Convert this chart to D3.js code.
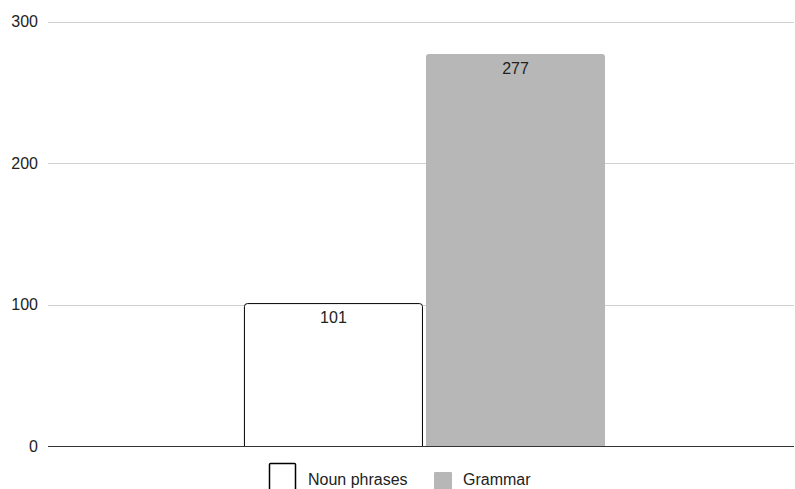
<!DOCTYPE html>
<html>
<head>
<meta charset="utf-8">
<script src="https://cdn.jsdelivr.net/npm/d3@7"></script>
<style>
  html, body { margin: 0; padding: 0; background: #fff; }
  svg { display: block; font-family: "Liberation Sans", Arial, Helvetica, sans-serif; }
</style>
</head>
<body>
<svg id="chart" width="795" height="489"></svg>
<script>
// Chart data
const categories = [""];
const seriesNames = ["Noun phrases", "Grammar"];
const nounPhrases = [101];
const grammar = [277];
const yTicks = [0, 100, 200, 300];

const seriesColors = { "Noun phrases": "#ffffff", "Grammar": "#b7b7b7" };
const seriesStroke = { "Noun phrases": "#000000", "Grammar": "none" };

const rows = categories.map((c, i) => ({
  category: c,
  values: [
    { key: "Noun phrases", value: nounPhrases[i] },
    { key: "Grammar", value: grammar[i] }
  ]
}));

const svg = d3.select("#chart");
const plotLeft = 48, plotRight = 794;
const yBase = 446, yTop = 21.5;
const fontSize = "16px";

const y = d3.scaleLinear().domain([0, 300]).range([yBase, yTop]);
const x0 = d3.scaleBand().domain(categories).range([plotLeft, plotRight])
  .paddingInner(0).paddingOuter(0.533).align(0.509);
const x1 = d3.scaleBand().domain(seriesNames).range([0, x0.bandwidth()]).paddingInner(0.0165);

// Y labels
const yAxis = d3.axisLeft(y).tickValues(yTicks).tickSize(0).tickPadding(10).tickFormat(d3.format("d"));
const gAxis = svg.append("g").attr("transform", `translate(${plotLeft},0)`).call(yAxis);
gAxis.select(".domain").remove();
gAxis.selectAll("text").attr("font-size", fontSize).attr("fill", "#222")
  .attr("font-family", "Liberation Sans, Arial, sans-serif");

// Gridlines
svg.append("g").selectAll("line").data(yTicks.filter(d => d !== 0)).join("line")
  .attr("x1", plotLeft).attr("x2", plotRight)
  .attr("y1", d => Math.round(y(d)) + 0.5).attr("y2", d => Math.round(y(d)) + 0.5)
  .attr("stroke", "#d0d0d0").attr("stroke-width", 1);

// Bars: path with slightly rounded top corners
function barPath(x, yTopPx, w, h, r) {
  return `M${x},${yTopPx + h}V${yTopPx + r}Q${x},${yTopPx} ${x + r},${yTopPx}H${x + w - r}Q${x + w},${yTopPx} ${x + w},${yTopPx + r}V${yTopPx + h}`;
}

const groups = svg.append("g").selectAll("g").data(rows).join("g")
  .attr("transform", d => `translate(${x0(d.category)},0)`);

groups.selectAll("path").data(d => d.values).join("path")
  .attr("d", d => {
    const off = seriesStroke[d.key] !== "none" ? 0.5 : 0;
    return barPath(x1(d.key) + off, y(d.value) + off, x1.bandwidth() - 2 * off, yBase - y(d.value) - off, 3);
  })
  .attr("fill", d => seriesColors[d.key])
  .attr("stroke", d => seriesStroke[d.key])
  .attr("stroke-width", 1);

groups.selectAll("text").data(d => d.values).join("text")
  .attr("x", d => x1(d.key) + x1.bandwidth() / 2)
  .attr("y", d => y(d.value) + 20)
  .attr("text-anchor", "middle")
  .attr("font-size", fontSize)
  .attr("fill", "#222")
  .text(d => d.value);

// Baseline
svg.append("line")
  .attr("x1", plotLeft).attr("x2", plotRight)
  .attr("y1", yBase + 0.5).attr("y2", yBase + 0.5)
  .attr("stroke", "#333").attr("stroke-width", 1);

// Legend
const legend = svg.append("g");
legend.append("rect").attr("x", 269.5).attr("y", 463.5).attr("width", 26).attr("height", 30)
  .attr("fill", "#fff").attr("stroke", "#000").attr("stroke-width", 1.5).attr("rx", 1);
legend.append("text").attr("x", 308).attr("y", 485).attr("font-size", fontSize).attr("fill", "#222").text(seriesNames[0]);
legend.append("rect").attr("x", 434).attr("y", 472).attr("width", 18).attr("height", 18)
  .attr("fill", seriesColors["Grammar"]).attr("rx", 1);
legend.append("text").attr("x", 463).attr("y", 485).attr("font-size", fontSize).attr("fill", "#222").text(seriesNames[1]);
</script>
</body>
</html>
